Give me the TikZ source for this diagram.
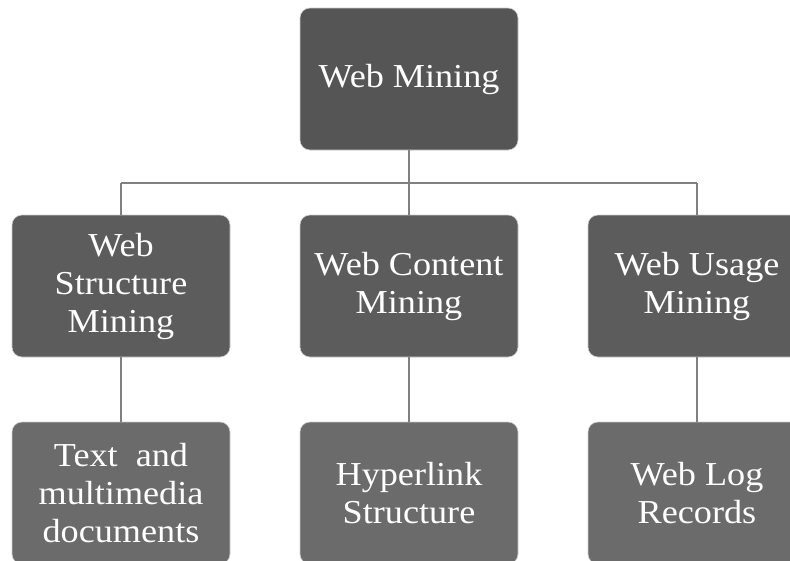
\documentclass[tikz,border=0pt]{standalone}
\usepackage{fontspec}
\setmainfont[FakeStretch=1.08]{Liberation Serif}
\definecolor{topc}{HTML}{555555}
\definecolor{midc}{HTML}{5C5C5C}
\definecolor{botc}{HTML}{6B6B6B}
\definecolor{linec}{HTML}{808080}
\begin{document}
\begin{tikzpicture}[x=1pt,y=-1pt,
  box/.style={rounded corners=10pt, minimum width=218pt, minimum height=142pt, inner sep=0pt,
    text=white, align=center, font=\fontsize{33.5}{38}\selectfont, draw=white!80!black, line width=0.6pt},
  conn/.style={draw=linec, line width=1.6pt}]
\useasboundingbox (0,0) rectangle (790,560);
\clip (0,0) rectangle (790,560);
\node[box, fill=topc] (top) at (409,79) {Web Mining};
\node[box, fill=midc] (m1) at (121,286) {Web\\Structure\\Mining};
\node[box, fill=midc] (m2) at (409,286) {Web Content\\Mining};
\node[box, fill=midc] (m3) at (697,286) {Web Usage\\Mining};
\node[box, fill=botc] (b1) at (121,493) {Text~ and\\multimedia\\documents};
\node[box, fill=botc] (b2) at (409,493) {Hyperlink\\Structure};
\node[box, fill=botc] (b3) at (697,493) {Web Log\\Records};
\coordinate (hl) at (121,183);
\coordinate (hr) at (697,183);
\draw[conn] (top.south) -- (m2.north);
\draw[conn] (hl) -- (hr);
\draw[conn] (hl) -- (m1.north);
\draw[conn] (hr) -- (m3.north);
\draw[conn] (m1.south) -- (b1.north);
\draw[conn] (m2.south) -- (b2.north);
\draw[conn] (m3.south) -- (b3.north);
\end{tikzpicture}
\end{document}
